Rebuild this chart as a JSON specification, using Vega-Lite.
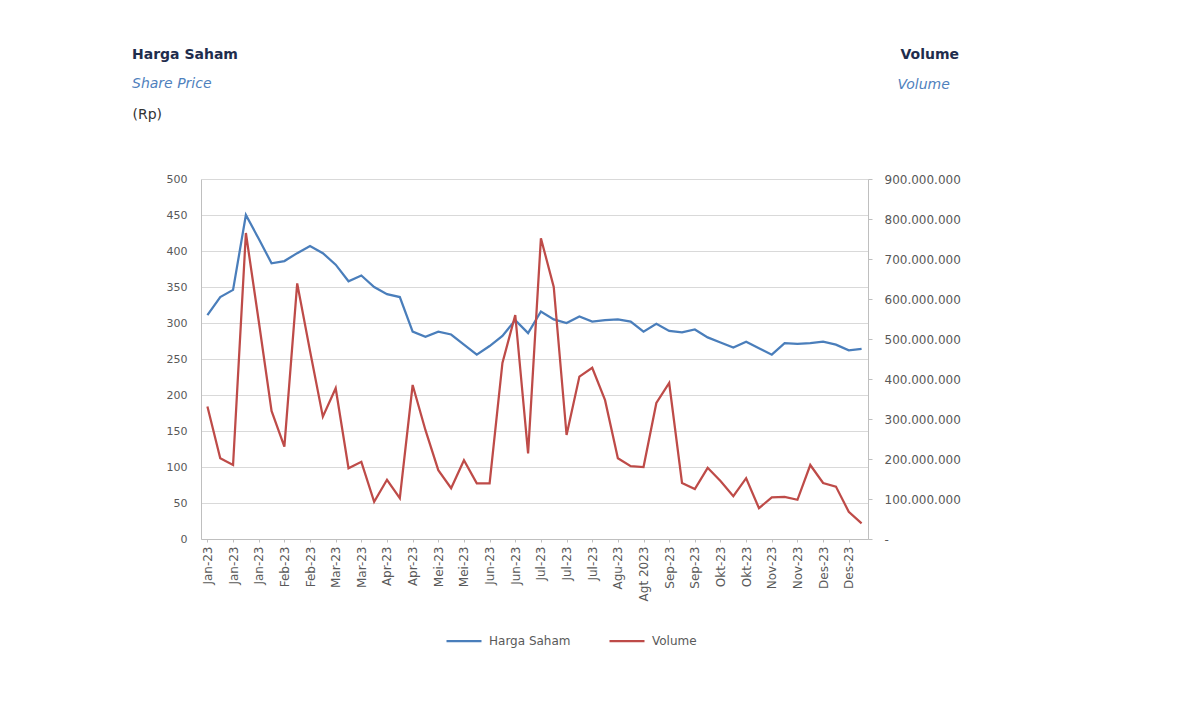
{
  "$schema": "https://vega.github.io/schema/vega-lite/v6.json",
  "width": 667,
  "height": 360,
  "padding": {"left": 132, "top": 47, "right": 10, "bottom": 10},
  "background": "white",
  "config": {"font": "DejaVu Sans", "view": {"stroke": null}},
  "title": {
    "text": "Harga Saham",
    "subtitle": "Share Price",
    "anchor": "start",
    "frame": "group",
    "dx": -69,
    "offset": -44,
    "fontSize": 14,
    "fontWeight": "bold",
    "color": "#1f2d4d",
    "subtitleFontSize": 14,
    "subtitleFontStyle": "italic",
    "subtitleColor": "#4f81bd",
    "subtitlePadding": 15
  },
  "data": {
    "values": [
      {"idx": 0, "harga": 311, "volume": 331000000},
      {"idx": 1, "harga": 336, "volume": 202000000},
      {"idx": 2, "harga": 346, "volume": 185000000},
      {"idx": 3, "harga": 450, "volume": 765000000},
      {"idx": 4, "harga": 417, "volume": 545000000},
      {"idx": 5, "harga": 383, "volume": 320000000},
      {"idx": 6, "harga": 386, "volume": 231000000},
      {"idx": 7, "harga": 397, "volume": 639000000},
      {"idx": 8, "harga": 407, "volume": 470000000},
      {"idx": 9, "harga": 397, "volume": 306000000},
      {"idx": 10, "harga": 381, "volume": 377000000},
      {"idx": 11, "harga": 358, "volume": 177000000},
      {"idx": 12, "harga": 366, "volume": 193000000},
      {"idx": 13, "harga": 350, "volume": 93000000},
      {"idx": 14, "harga": 340, "volume": 148000000},
      {"idx": 15, "harga": 336, "volume": 102000000},
      {"idx": 16, "harga": 288, "volume": 385000000},
      {"idx": 17, "harga": 281, "volume": 272000000},
      {"idx": 18, "harga": 288, "volume": 172000000},
      {"idx": 19, "harga": 284, "volume": 127000000},
      {"idx": 20, "harga": 270, "volume": 197000000},
      {"idx": 21, "harga": 256, "volume": 139000000},
      {"idx": 22, "harga": 268, "volume": 139000000},
      {"idx": 23, "harga": 282, "volume": 440000000},
      {"idx": 24, "harga": 304, "volume": 560000000},
      {"idx": 25, "harga": 286, "volume": 214000000},
      {"idx": 26, "harga": 316, "volume": 752000000},
      {"idx": 27, "harga": 305, "volume": 630000000},
      {"idx": 28, "harga": 300, "volume": 260000000},
      {"idx": 29, "harga": 309, "volume": 406000000},
      {"idx": 30, "harga": 302, "volume": 428000000},
      {"idx": 31, "harga": 304, "volume": 347000000},
      {"idx": 32, "harga": 305, "volume": 202000000},
      {"idx": 33, "harga": 302, "volume": 182000000},
      {"idx": 34, "harga": 288, "volume": 180000000},
      {"idx": 35, "harga": 299, "volume": 340000000},
      {"idx": 36, "harga": 289, "volume": 390000000},
      {"idx": 37, "harga": 287, "volume": 140000000},
      {"idx": 38, "harga": 291, "volume": 125000000},
      {"idx": 39, "harga": 280, "volume": 178000000},
      {"idx": 40, "harga": 273, "volume": 145000000},
      {"idx": 41, "harga": 266, "volume": 107000000},
      {"idx": 42, "harga": 274, "volume": 152000000},
      {"idx": 43, "harga": 265, "volume": 77000000},
      {"idx": 44, "harga": 256, "volume": 104000000},
      {"idx": 45, "harga": 272, "volume": 105000000},
      {"idx": 46, "harga": 271, "volume": 98000000},
      {"idx": 47, "harga": 272, "volume": 185000000},
      {"idx": 48, "harga": 274, "volume": 140000000},
      {"idx": 49, "harga": 270, "volume": 131000000},
      {"idx": 50, "harga": 262, "volume": 68000000},
      {"idx": 51, "harga": 264, "volume": 39000000}
    ]
  },
  "layer": [
    {
      "mark": {"type": "line", "strokeWidth": 2.25},
      "encoding": {
        "x": {
          "field": "idx",
          "type": "quantitative",
          "scale": {"domain": [-0.5, 51.5], "nice": false, "zero": false},
          "axis": {
            "values": [0, 2, 4, 6, 8, 10, 12, 14, 16, 18, 20, 22, 24, 26, 28, 30, 32, 34, 36, 38, 40, 42, 44, 46, 48, 50],
            "labelExpr": "['Jan-23','Jan-23','Jan-23','Feb-23','Feb-23','Mar-23','Mar-23','Apr-23','Apr-23','Mei-23','Mei-23','Jun-23','Jun-23','Jul-23','Jul-23','Jul-23','Agu-23','Agt 2023','Sep-23','Sep-23','Okt-23','Okt-23','Nov-23','Nov-23','Des-23','Des-23'][round(datum.value/2)]",
            "labelAngle": -90,
            "labelAlign": "right",
            "labelBaseline": "middle",
            "labelPadding": 4,
            "labelFontSize": 12,
            "labelColor": "#595959",
            "labelFlush": false,
            "labelOverlap": false,
            "ticks": true,
            "tickSize": 3,
            "tickColor": "#bfbfbf",
            "domainColor": "#bfbfbf",
            "grid": false,
            "title": null
          }
        },
        "y": {
          "field": "harga",
          "type": "quantitative",
          "scale": {"domain": [0, 500], "nice": false},
          "axis": {
            "values": [0, 50, 100, 150, 200, 250, 300, 350, 400, 450, 500],
            "title": "(Rp)",
            "titleAngle": 0,
            "titleX": -69,
            "titleY": -65,
            "titleAlign": "left",
            "titleBaseline": "middle",
            "titleFontSize": 14,
            "titleFontWeight": "normal",
            "titleColor": "#333333",
            "grid": true,
            "gridColor": "#d9d9d9",
            "domainColor": "#bfbfbf",
            "ticks": false,
            "labelPadding": 14,
            "labelFontSize": 11,
            "labelColor": "#595959"
          }
        },
        "color": {
          "datum": "Harga Saham",
          "type": "nominal",
          "scale": {"domain": ["Harga Saham", "Volume"], "range": ["#4a7ebb", "#be4b48"]},
          "legend": {
            "orient": "none",
            "legendX": 244,
            "legendY": 443,
            "direction": "horizontal",
            "title": null,
            "symbolType": "stroke",
            "symbolStrokeWidth": 2.25,
            "symbolSize": 1225,
            "labelFontSize": 12,
            "labelColor": "#595959",
            "columnPadding": 34,
            "labelOffset": 6
          }
        }
      }
    },
    {
      "mark": {"type": "line", "strokeWidth": 2.25},
      "encoding": {
        "x": {
          "field": "idx",
          "type": "quantitative",
          "scale": {"domain": [-0.5, 51.5], "nice": false, "zero": false},
          "axis": {
            "orient": "top",
            "title": "Volume",
            "titleX": 696,
            "titleY": -95,
            "titleAngle": 0,
            "titleAlign": "left",
            "titleBaseline": "middle",
            "titleFontSize": 14,
            "titleFontStyle": "italic",
            "titleFontWeight": "normal",
            "titleColor": "#4f81bd",
            "labels": false,
            "ticks": false,
            "domain": false,
            "grid": false
          }
        },
        "y": {
          "field": "volume",
          "type": "quantitative",
          "scale": {"domain": [0, 900000000], "nice": false},
          "axis": {
            "orient": "right",
            "values": [0, 100000000, 200000000, 300000000, 400000000, 500000000, 600000000, 700000000, 800000000, 900000000],
            "labelExpr": "datum.value == 0 ? '-' : replace(format(datum.value, ','), regexp(',', 'g'), '.')",
            "grid": false,
            "ticks": true,
            "tickSize": 4,
            "tickColor": "#bfbfbf",
            "domainColor": "#bfbfbf",
            "labelPadding": 12,
            "labelFontSize": 12,
            "labelColor": "#595959",
            "title": "Volume",
            "titleAngle": 0,
            "titleX": 32,
            "titleY": -125,
            "titleAlign": "left",
            "titleBaseline": "middle",
            "titleFontSize": 14,
            "titleFontWeight": "bold",
            "titleColor": "#1f2d4d"
          }
        },
        "color": {"datum": "Volume", "type": "nominal"}
      }
    }
  ],
  "resolve": {"scale": {"y": "independent", "x": "independent"}}
}
